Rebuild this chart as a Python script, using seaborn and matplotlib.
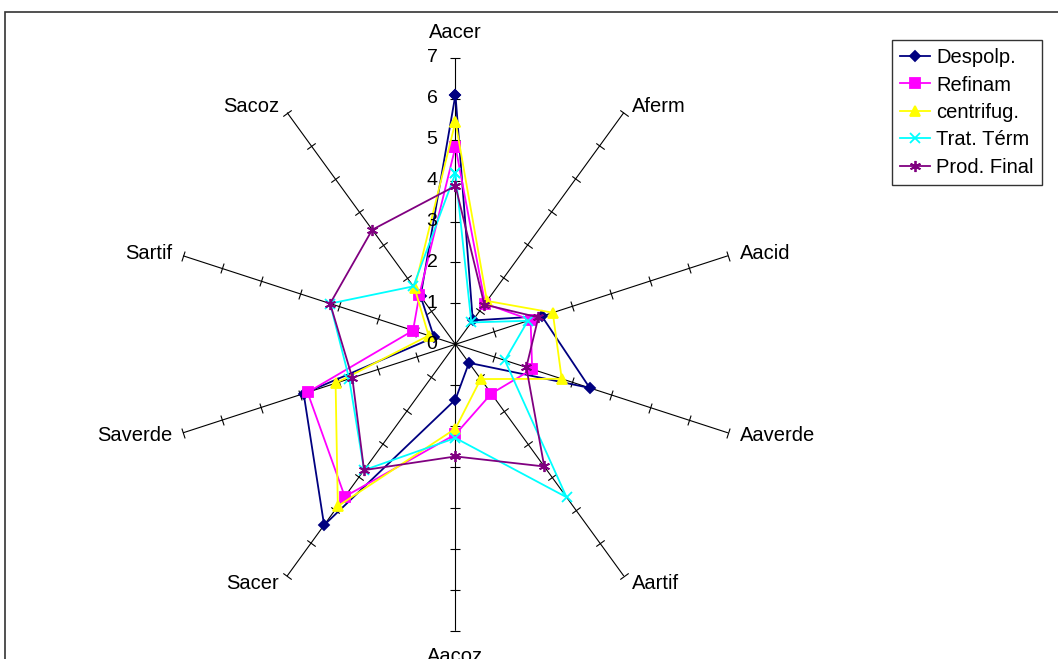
import numpy as np
import pandas as pd
import matplotlib
matplotlib.use("Agg")
import matplotlib.pyplot as plt
from matplotlib.patches import Rectangle
import seaborn as sns

plt.rcParams['font.family'] = ['Liberation Sans', 'DejaVu Sans']

# axes of the radar, clockwise from the top
categories = ["Aacer", "Aferm", "Aacid", "Aaverde", "Aartif",
              "Aacoz", "Sacer", "Saverde", "Sartif", "Sacoz"]
series_names = ["Despolp.", "Refinam", "centrifug.", "Trat. Térm", "Prod. Final"]

despolp = [6.10, 0.72, 2.22, 3.45, 0.56, 1.35, 5.46, 3.90, 0.55, 1.45]
refinam = [4.83, 1.23, 1.93, 1.97, 1.49, 2.20, 4.60, 3.80, 1.09, 1.50]
centrifug = [5.44, 1.31, 2.50, 2.73, 1.05, 2.06, 4.89, 3.08, 0.69, 1.70]
trat_term = [4.18, 0.66, 1.86, 1.27, 4.62, 2.29, 3.80, 2.73, 3.22, 1.75]
prod_final = [3.87, 1.20, 2.13, 1.82, 3.69, 2.74, 3.80, 2.65, 3.22, 3.46]

r_ticks = [0, 1, 2, 3, 4, 5, 6, 7]

colors = ["#000080", "#FF00FF", "#FFFF00", "#00FFFF", "#800080"]
markers = ["D", "s", "^", "x", (6, 2, 0)]
marker_sizes = [5, 6.5, 7, 7, 8]

values = [despolp, refinam, centrifug, trat_term, prod_final]

n = len(categories)
theta = np.arange(n) * 2 * np.pi / n
# close each polygon by going back to the first axis
theta_closed = np.append(theta, 2 * np.pi)

rows = []
for name, vals in zip(series_names, values):
    for t, v in zip(theta_closed, list(vals) + [vals[0]]):
        rows.append({"series": name, "theta": t, "value": v})
df = pd.DataFrame(rows)

fig = plt.figure(figsize=(10.58, 6.59), dpi=100)
ax = fig.add_axes([0.1597, 0.0428, 0.54159, 0.86950], projection="polar")
ax.set_theta_zero_location("N")
ax.set_theta_direction(-1)
ax.set_ylim(0, 7)
ax.grid(False)
ax.spines["polar"].set_visible(False)
ax.set_xticks([])
ax.set_yticks([])
ax.patch.set_alpha(0)

# spokes with crossing tick marks
for t in theta:
    ax.plot([t, t], [0, 7], color="black", linewidth=0.8, zorder=1)
    ang = 90 - np.degrees(t)
    ax.plot([t] * 7, r_ticks[1:], linestyle="none", marker=(2, 0, ang),
            markersize=7.5, markeredgewidth=0.8, markeredgecolor="black",
            zorder=1, clip_on=False)

for name, c, m, ms in zip(series_names, colors, markers, marker_sizes):
    d = df[df["series"] == name]
    sns.lineplot(x=d["theta"].to_numpy(), y=d["value"].to_numpy(), ax=ax,
                 sort=False, estimator=None, color=c, linewidth=1.3,
                 marker=m, markersize=ms, markeredgecolor=c,
                 markerfacecolor=c, markeredgewidth=1.3, label=name,
                 clip_on=False, zorder=3)

# radial value labels on the first axis
for k in r_ticks:
    ax.annotate(str(k), xy=(0, k), xytext=(-18, 0), textcoords="offset pixels",
                ha="right", va="center", fontsize=14)

# category labels at the spoke ends
label_offsets = [(0, 25), (8, 6), (12, 2), (12, -3), (8, -7),
                 (0, -26), (-8, -7), (-11, -3), (-11, 2), (-8, 6)]
for t, cat, (ox, oy) in zip(theta, categories, label_offsets):
    ha = "center" if ox == 0 else ("left" if ox > 0 else "right")
    ax.annotate(cat, xy=(t, 7), xytext=(ox, oy), textcoords="offset pixels",
                ha=ha, va="center", fontsize=14.5, annotation_clip=False)

leg = ax.legend(loc="upper left", bbox_to_anchor=(892 / 1058, 1 - 40 / 659),
                bbox_transform=fig.transFigure, frameon=True, fancybox=False,
                fontsize=14.5, handlelength=1.5, handletextpad=0.3,
                labelspacing=0.42, borderpad=0.4, borderaxespad=0)
leg.get_frame().set_edgecolor("black")
leg.get_frame().set_linewidth(1.0)

fig.patches.append(Rectangle((5 / 1058, -0.1), 1.2, 1.1 - 12 / 659,
                             transform=fig.transFigure, fill=False,
                             edgecolor="#333333", linewidth=1.2))

fig.savefig("out.png", dpi=100)
